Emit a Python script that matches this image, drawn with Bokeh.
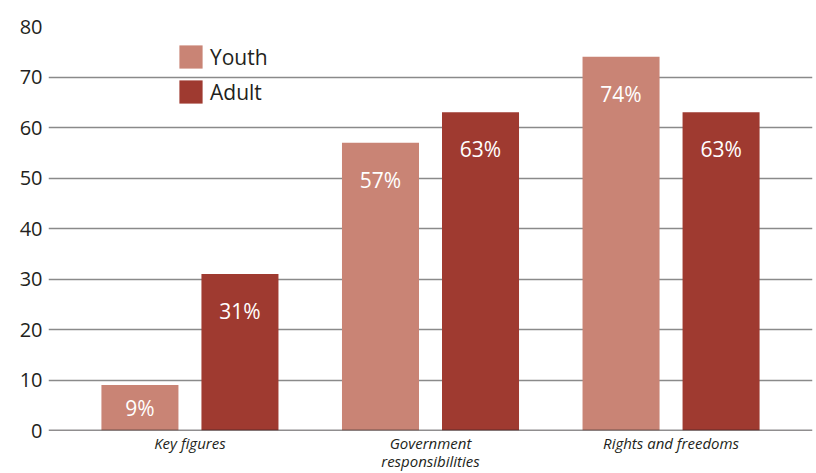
from bokeh.plotting import figure
from bokeh.models import FactorRange, Span, Legend, LegendItem, ColumnDataSource, FixedTicker
from bokeh.transform import dodge
from bokeh.core.properties import value
from bokeh.embed import file_html
from bokeh.resources import INLINE

categories = ["Key figures", "Government\nresponsibilities", "Rights and freedoms"]
youth = [9, 57, 74]
adult = [31, 63, 63]
y_ticks = [0, 10, 20, 30, 40, 50, 60, 70, 80]

YOUTH_C = "#C98475"
ADULT_C = "#9F3A30"
FONT = "Open Sans"

px_per_unit = 405 / 80.0
def label_y(v):
    return max(v - 37 / px_per_unit, v / 2.0)

src = ColumnDataSource(dict(
    cat=categories,
    youth=youth,
    adult=adult,
    youth_lbl=[f"{v}%" for v in youth],
    adult_lbl=[f"{v}%" for v in adult],
    youth_ly=[label_y(v) for v in youth],
    adult_ly=[label_y(v) for v in adult],
))

p = figure(
    x_range=FactorRange(*categories, range_padding=0.088, range_padding_units="absolute"),
    y_range=(0, 80),
    width=814, height=473,
    output_backend="svg", toolbar_location=None,
    min_border_left=48, min_border_right=2, min_border_top=26, min_border_bottom=42,
)
p.outline_line_color = None
p.background_fill_color = "white"

off = 50 / 240.5
bw = 77 / 240.5
r1 = p.vbar(x=dodge("cat", -off, range=p.x_range), top="youth", width=bw, source=src,
            fill_color=YOUTH_C, line_color=None)
r2 = p.vbar(x=dodge("cat", off, range=p.x_range), top="adult", width=bw, source=src,
            fill_color=ADULT_C, line_color=None)

p.text(x=dodge("cat", -off, range=p.x_range), y="youth_ly", text="youth_lbl", source=src,
       text_color="white", text_font=value(FONT), text_font_size="21px",
       text_align="center", text_baseline="middle")
p.text(x=dodge("cat", off, range=p.x_range), y="adult_ly", text="adult_lbl", source=src,
       text_color="white", text_font=value(FONT), text_font_size="21px",
       text_align="center", text_baseline="middle")

# axes
p.yaxis.ticker = FixedTicker(ticks=y_ticks)
p.yaxis.axis_line_color = None
p.yaxis.major_tick_line_color = None
p.yaxis.major_tick_out = 0
p.yaxis.major_tick_in = 0
p.yaxis.minor_tick_line_color = None
p.yaxis.major_label_text_font = FONT
p.yaxis.major_label_text_font_size = "20px"
p.yaxis.major_label_text_color = "#231f20"
p.yaxis.major_label_standoff = 6

p.xaxis.axis_line_color = None
p.xaxis.major_tick_line_color = None
p.xaxis.major_tick_out = 0
p.xaxis.major_tick_in = 0
p.xaxis.major_label_text_font = FONT
p.xaxis.major_label_text_font_style = "italic"
p.xaxis.major_label_text_font_size = "15px"
p.xaxis.major_label_text_color = "#231f20"
p.xaxis.major_label_standoff = 2
p.xaxis.major_label_text_line_height = 0.9

p.xgrid.grid_line_color = None
p.ygrid.grid_line_color = "#8a8a8a"
p.ygrid.grid_line_width = 1.5
p.ygrid.level = "underlay"

zero = Span(location=0, dimension="width", line_color="#231f20", line_width=1.5)
p.add_layout(zero)

legend = Legend(items=[LegendItem(label="Youth", renderers=[r1]),
                       LegendItem(label="Adult", renderers=[r2])],
                location=(128, 324))
legend.background_fill_alpha = 0
legend.border_line_color = None
legend.padding = 0
legend.margin = 0
legend.glyph_width = 29
legend.glyph_height = 29
legend.label_height = 29
legend.spacing = 6
legend.label_text_font = FONT
legend.label_text_font_size = "21px"
legend.label_text_color = "#231f20"
legend.label_standoff = 5
p.add_layout(legend, "center")

open("out.html", "w").write(file_html(p, INLINE))
